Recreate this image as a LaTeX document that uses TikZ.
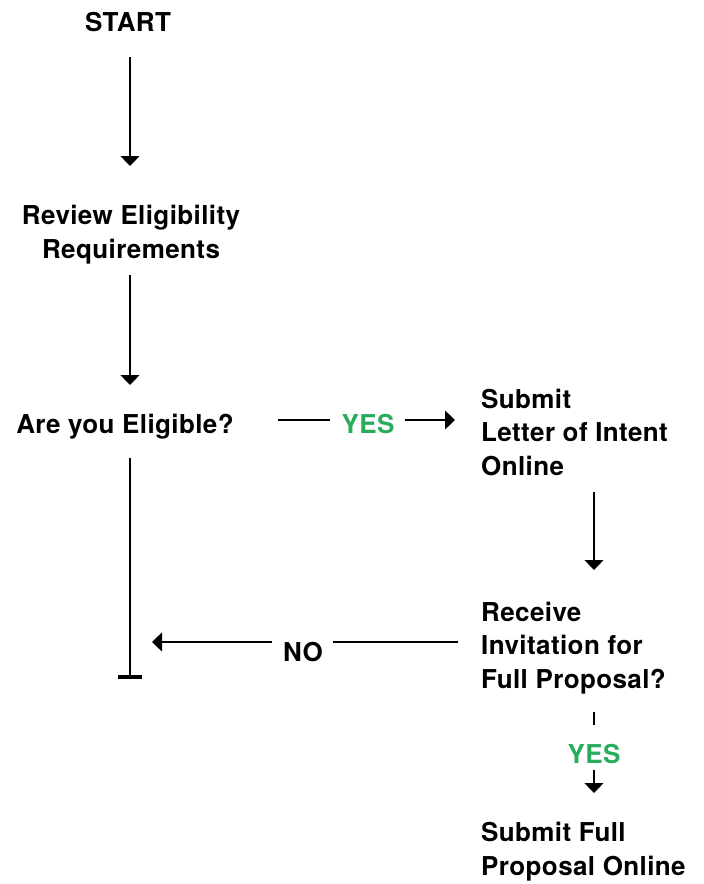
\documentclass[tikz,border=0pt]{standalone}
\usepackage{fontspec}
\newfontfamily\lblfont{TeX Gyre Heros}[LetterSpace=1.5]
\usetikzlibrary{arrows.meta}
\definecolor{yesgreen}{RGB}{40,172,92}
\tikzset{
  txt/.style={inner sep=0pt, font=\lblfont\bfseries\fontsize{26}{33.5}\selectfont, text=black},
  lefttxt/.style={txt, align=left, anchor=base west},
  ctxt/.style={txt, align=center, anchor=base},
  yestxt/.style={txt, anchor=base, text=yesgreen},
  notxt/.style={txt, anchor=base},
  conn/.style={draw=black, line width=1.2pt},
  arr/.style={conn, -{Triangle[width=19pt,length=10pt]}},
  stopbar/.style={draw=black, line width=4pt}
}
\begin{document}
\begin{tikzpicture}[x=1pt,y=-1pt]
\useasboundingbox (0,0) rectangle (704,884);
% text nodes (base anchor = baseline of the last line)
\node[ctxt] (start) at (128,31) {START};
\node[ctxt] (review) at (131,258) {Review Eligibility\\Requirements};
\node[ctxt] (elig) at (125,433) {Are you Eligible?};
\node[lefttxt] (loi) at (481,475) {Submit\\Letter of Intent\\Online};
\node[lefttxt] (invite) at (481,688) {Receive\\Invitation for\\Full Proposal?};
\node[lefttxt] (full) at (481,875) {Submit Full\\Proposal Online};
\node[yestxt] (yes1) at (368,433) {YES};
\node[notxt] (no) at (303,661) {NO};
\node[yestxt] (yes2) at (594,763) {YES};
% connector ends
\coordinate (a1) at (130,57);   \coordinate (a2) at (130,166);
\coordinate (b1) at (130,275);  \coordinate (b2) at (130,385);
\coordinate (c1) at (278,420);  \coordinate (c2) at (330,420);
\coordinate (c3) at (405,420);  \coordinate (c4) at (455,420);
\coordinate (d1) at (594,492);  \coordinate (d2) at (594,570);
\coordinate (e1) at (458,642);  \coordinate (e2) at (333,642);
\coordinate (e3) at (272,642);  \coordinate (e4) at (152,642);
\coordinate (f1) at (130,458);  \coordinate (f2) at (130,677);
\coordinate (g1) at (594,712);  \coordinate (g2) at (594,725);
\coordinate (g3) at (594,770);  \coordinate (g4) at (594,793);
\coordinate (t1) at (118,677);  \coordinate (t2) at (142,677);
% connectors
\draw[arr] (a1) -- (a2);
\draw[arr] (b1) -- (b2);
\draw[conn] (c1) -- (c2);
\draw[arr] (c3) -- (c4);
\draw[arr] (d1) -- (d2);
\draw[conn] (e1) -- (e2);
\draw[arr] (e3) -- (e4);
\draw[conn] (f1) -- (f2);
\draw[stopbar] (t1) -- (t2);
\draw[conn] (g1) -- (g2);
\draw[arr] (g3) -- (g4);
\end{tikzpicture}
\end{document}
